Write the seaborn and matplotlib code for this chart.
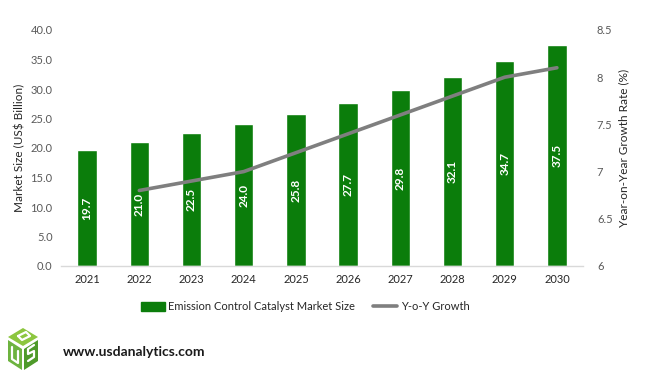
import matplotlib
matplotlib.use("Agg")
import matplotlib.pyplot as plt
from matplotlib.patches import Polygon, Patch
from matplotlib.lines import Line2D
import seaborn as sns
import pandas as pd

years = ["2021", "2022", "2023", "2024", "2025", "2026", "2027", "2028", "2029", "2030"]
market_size = [19.7, 21.0, 22.5, 24.0, 25.8, 27.7, 29.8, 32.1, 34.7, 37.5]
growth_years = ["2022", "2023", "2024", "2025", "2026", "2027", "2028", "2029", "2030"]
growth = [6.8, 6.9, 7.0, 7.2, 7.4, 7.6, 7.8, 8.0, 8.1]
bar_label = "Emission Control Catalyst Market Size"
line_label = "Y-o-Y Growth"

sns.set_theme(style="white")
plt.rcParams["font.family"] = ["Lato", "DejaVu Sans"]

BAR = "#0B7D0B"
LINE = "#7F7F7F"
TICK = "#595959"

df = pd.DataFrame({"year": years, "size": market_size})
gdf = pd.DataFrame({"year": growth_years, "g": growth})
gdf["x"] = [years.index(y) for y in growth_years]

fig = plt.figure(figsize=(6.57, 3.82), dpi=100)
ax = fig.add_axes([61/657, 1-266/382, (583-61)/657, (266-30)/382])

sns.barplot(data=df, x="year", y="size", color=BAR, width=0.37, ax=ax, saturation=1)
ax.set_xlim(-0.5, 9.5)
ax.set_ylim(0, 40)
ax.set_yticks([0, 5, 10, 15, 20, 25, 30, 35, 40])
ax.set_yticklabels([f"{v:.1f}" for v in [0, 5, 10, 15, 20, 25, 30, 35, 40]])
ax.set_xlabel("")
ax.set_ylabel("Market Size (US$ Billion)", fontsize=8.5, color="#262626", labelpad=4)
ax.tick_params(axis="y", labelsize=8, colors=TICK, length=0, pad=6)
ax.tick_params(axis="x", labelsize=8, colors="#262626", length=0, pad=6)
for s in ["top", "left", "right"]:
    ax.spines[s].set_visible(False)
ax.spines["bottom"].set_color("#D9D9D9")
ax.spines["bottom"].set_linewidth(1)

for i, v in enumerate(market_size):
    ax.text(i, v / 2, f"{v:.1f}", rotation=90, ha="center", va="center",
            color="white", fontsize=8.5, fontweight="bold")

ax2 = ax.twinx()
sns.lineplot(data=gdf, x="x", y="g", color=LINE, linewidth=2.6, ax=ax2)
ax2.set_ylim(6, 8.5)
ax2.set_yticks([6, 6.5, 7, 7.5, 8, 8.5])
ax2.set_yticklabels(["6", "6.5", "7", "7.5", "8", "8.5"])
ax2.set_ylabel("Year-on-Year Growth Rate (%)", fontsize=8.5, color="#262626", labelpad=4)
ax2.set_xlabel("")
ax2.tick_params(axis="y", labelsize=8, colors=TICK, length=0, pad=10)
for s in ["top", "left", "right", "bottom"]:
    ax2.spines[s].set_visible(False)
ax2.set_xlim(-0.5, 9.5)

handles = [Patch(facecolor=BAR, edgecolor=BAR), Line2D([0], [0], color=LINE, lw=2.6)]
fig.legend(handles, [bar_label, line_label], loc="center", bbox_to_anchor=(305/657, 1-307/382),
           ncol=2, frameon=False, fontsize=8, handlelength=2.2, handleheight=0.8,
           columnspacing=1.6, handletextpad=0.3)

# logo
lax = fig.add_axes([0, 0, 1, 1], zorder=-1)
lax.set_xlim(0, 657)
lax.set_ylim(382, 0)
lax.axis("off")
cx, cy = 23, 349
w, h = 15, 9
top = [(cx, cy - 2*h - 3), (cx + w, cy - h - 3), (cx, cy - 3), (cx - w, cy - h - 3)]
left = [(cx - w, cy - h), (cx - 1, cy), (cx - 1, cy + 2*h + 3), (cx - w, cy + h + 3)]
right = [(cx + 1, cy), (cx + w, cy - h), (cx + w, cy + h + 3), (cx + 1, cy + 2*h + 3)]
lax.add_patch(Polygon(top, closed=True, facecolor="#8CC63F", edgecolor="none"))
lax.add_patch(Polygon(left, closed=True, facecolor="#6DB33F", edgecolor="none"))
lax.add_patch(Polygon(right, closed=True, facecolor="#4E9A2A", edgecolor="none"))
# letters (white strokes)
lax.plot([cx - 5, cx + 3, cx + 7, cx - 1, cx - 5], [cy - 13, cy - 17, cy - 13, cy - 9, cy - 13],
         color="white", lw=1.6)
lax.plot([cx - 11, cx - 11, cx - 5, cx - 5], [cy - 2, cy + 10, cy + 14, cy + 2], color="white", lw=1.6)
lax.plot([cx + 11, cx + 5, cx + 5, cx + 11, cx + 11, cx + 5],
         [cy - 4, cy, cy + 5, cy + 2, cy + 8, cy + 12], color="white", lw=1.6)

fig.text(63/657, 1-352/382, "www.usdanalytics.com", fontsize=10, fontweight="bold",
         color="#1a1a1a", va="center", ha="left")

fig.savefig("out.png", dpi=100)
